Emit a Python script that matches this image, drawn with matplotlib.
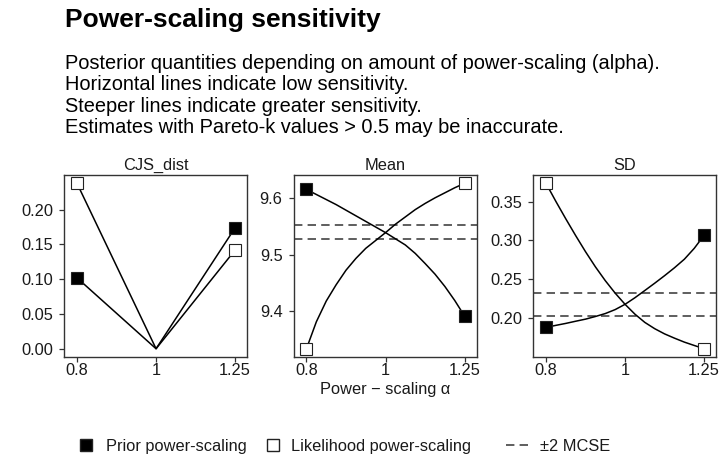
import matplotlib
matplotlib.use("Agg")
import matplotlib.pyplot as plt
from matplotlib.lines import Line2D
import numpy as np

plt.rcParams['font.family'] = ['Liberation Sans', 'DejaVu Sans']

# ---- data ----
alpha = [0.8, 0.8226, 0.8459, 0.8698, 0.8944, 0.9197, 0.9457, 0.9725, 1.0,
         1.0283, 1.0574, 1.0873, 1.1180, 1.1497, 1.1822, 1.2156, 1.25]
cjs_alpha = [0.8, 1.0, 1.25]
cjs_prior = [0.102, 0.0, 0.174]
cjs_lik = [0.238, 0.0, 0.142]
mean_prior = [9.616, 9.607, 9.598, 9.589, 9.579, 9.569, 9.559, 9.549, 9.539,
              9.528, 9.517, 9.502, 9.484, 9.465, 9.443, 9.418, 9.390]
mean_lik = [9.332, 9.380, 9.417, 9.446, 9.472, 9.493, 9.511, 9.525, 9.539,
            9.554, 9.567, 9.580, 9.591, 9.601, 9.610, 9.619, 9.627]
sd_prior = [0.1881, 0.1907, 0.1932, 0.1960, 0.1987, 0.2021, 0.2059, 0.2110, 0.2178,
            0.2263, 0.2356, 0.2450, 0.2547, 0.2649, 0.2759, 0.2899, 0.3068]
sd_lik = [0.3737, 0.3504, 0.3280, 0.3064, 0.2856, 0.2661, 0.2483, 0.2322, 0.2178,
          0.2051, 0.1945, 0.1864, 0.1797, 0.1742, 0.1691, 0.1648, 0.1606]
mean_mcse = [9.527, 9.552]
sd_mcse = [0.2022, 0.2318]

panels = ["CJS_dist", "Mean", "SD"]
x_ticks = [0.8, 1, 1.25]
x_ticklabels = ["0.8", "1", "1.25"]
y_ticks = {
    "CJS_dist": [0.0, 0.05, 0.10, 0.15, 0.20],
    "Mean": [9.4, 9.5, 9.6],
    "SD": [0.20, 0.25, 0.30, 0.35],
}
y_ticklabels = {
    "CJS_dist": ["0.00", "0.05", "0.10", "0.15", "0.20"],
    "Mean": ["9.4", "9.5", "9.6"],
    "SD": ["0.20", "0.25", "0.30", "0.35"],
}
series = {
    "CJS_dist": (cjs_alpha, cjs_prior, cjs_lik, None),
    "Mean": (alpha, mean_prior, mean_lik, mean_mcse),
    "SD": (alpha, sd_prior, sd_lik, sd_mcse),
}

W, H = 723, 465
fig = plt.figure(figsize=(W / 100, H / 100), dpi=100)

lefts = [64, 293.5, 533]
top_px, bot_px, wid_px = 175, 357, 183
axcol = "#333333"
txtcol = "#1a1a1a"
fs = 11.8

lx0, lx1 = np.log(0.8), np.log(1.25)
span = lx1 - lx0
xlim = (np.exp(lx0 - 0.082 * span), np.exp(lx1 + 0.075 * span))

for name, lp in zip(panels, lefts):
    ax = fig.add_axes([lp / W, (H - bot_px) / H, wid_px / W, (bot_px - top_px) / H])
    xs, yp, yl, mc = series[name]
    if mc is not None:
        for v in mc:
            ax.axhline(v, color="#333333", lw=1.1, dashes=(5.5, 3.4), zorder=1)
    ax.plot(xs, yp, color="black", lw=1.1, zorder=2)
    ax.plot(xs, yl, color="black", lw=1.1, zorder=2)
    ax.plot([xs[0], xs[-1]], [yp[0], yp[-1]], ls="none", marker="s", ms=8,
            mfc="black", mec="#222222", mew=0.8, zorder=3)
    ax.plot([xs[0], xs[-1]], [yl[0], yl[-1]], ls="none", marker="s", ms=8,
            mfc="white", mec="#222222", mew=0.8, zorder=3)
    ax.set_xscale("log")
    ax.set_xlim(*xlim)
    ax.set_xticks(x_ticks)
    ax.set_xticklabels(x_ticklabels)
    ax.minorticks_off()
    allv = list(yp) + list(yl)
    lo, hi = min(allv), max(allv)
    pad = 0.05 * (hi - lo)
    ax.set_ylim(lo - pad, hi + pad)
    ax.set_yticks(y_ticks[name])
    ax.set_yticklabels(y_ticklabels[name])
    for s in ax.spines.values():
        s.set_color(axcol)
        s.set_linewidth(1.0)
    ax.tick_params(axis="both", direction="out", length=3.3, width=0.9,
                   color=axcol, labelsize=fs, labelcolor=txtcol)
    ax.tick_params(axis="y", pad=4.6)
    ax.tick_params(axis="x", pad=0.8)
    ax.set_title(name, fontsize=fs, color=txtcol, pad=3.8)
    if name == "Mean":
        ax.set_xlabel("Power \u2212 scaling \u03b1", fontsize=fs, color=txtcol, labelpad=3)

fig.text(65 / W, 1 - 26.7 / H, "Power-scaling sensitivity", fontsize=19,
         fontweight="bold", va="baseline", ha="left")
sub = ["Posterior quantities depending on amount of power-scaling (alpha).",
       "Horizontal lines indicate low sensitivity.",
       "Steeper lines indicate greater sensitivity.",
       "Estimates with Pareto-k values > 0.5 may be inaccurate."]
for i, s in enumerate(sub):
    fig.text(65 / W, 1 - (69 + 21.3 * i) / H, s, fontsize=14.4, va="baseline", ha="left")

# legend: three single-entry legends placed side by side
leg_y = 1 - 446 / H
entries = [
    (Line2D([], [], ls="none", marker="s", ms=8, mfc="black", mec="#222222"),
     "Prior power-scaling", 79.4, 0.8, 0.8),
    (Line2D([], [], ls="none", marker="s", ms=8, mfc="white", mec="#222222"),
     "Likelihood power-scaling", 266.5, 0.8, 0.7),
    (Line2D([], [], color="#333333", lw=1.1, dashes=(5.5, 3.4)),
     "\u00b12 MCSE", 506.5, 1.6, 0.45),
]
for h, lab, x0, hl, htp in entries:
    leg = fig.legend([h], [lab], loc="center left", bbox_to_anchor=(x0 / W, leg_y),
                     frameon=False, fontsize=fs, handlelength=hl, handletextpad=htp,
                     borderpad=0, borderaxespad=0)
    for t in leg.get_texts():
        t.set_color(txtcol)

fig.savefig("out.png", dpi=100)
